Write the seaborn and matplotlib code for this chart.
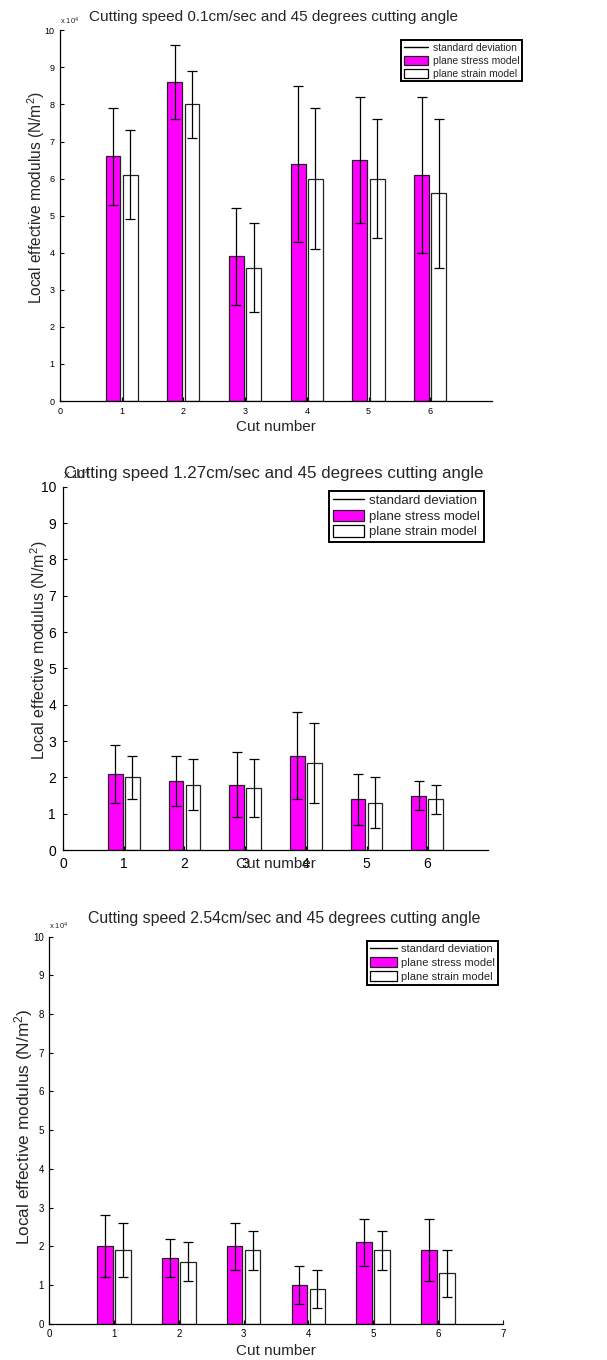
import numpy as np
import pandas as pd
import matplotlib
matplotlib.use("Agg")
import matplotlib.pyplot as plt
from matplotlib.lines import Line2D
from matplotlib.patches import Patch
import seaborn as sns

# Cut positions and model names
cuts = [1, 2, 3, 4, 5, 6]
models = ["plane stress model", "plane strain model"]

# Local effective modulus, in units of 1e4 N/m^2 (mean and standard deviation)
# Cutting speed 0.1 cm/sec
stress_01 = [6.6, 8.6, 3.9, 6.4, 6.5, 6.1]
stress_01_sd = [1.3, 1.0, 1.3, 2.1, 1.7, 2.1]
strain_01 = [6.1, 8.0, 3.6, 6.0, 6.0, 5.6]
strain_01_sd = [1.2, 0.9, 1.2, 1.9, 1.6, 2.0]

# Cutting speed 1.27 cm/sec
stress_127 = [2.1, 1.9, 1.8, 2.6, 1.4, 1.5]
stress_127_sd = [0.8, 0.7, 0.9, 1.2, 0.7, 0.4]
strain_127 = [2.0, 1.8, 1.7, 2.4, 1.3, 1.4]
strain_127_sd = [0.6, 0.7, 0.8, 1.1, 0.7, 0.4]

# Cutting speed 2.54 cm/sec
stress_254 = [2.0, 1.7, 2.0, 1.0, 2.1, 1.9]
stress_254_sd = [0.8, 0.5, 0.6, 0.5, 0.6, 0.8]
strain_254 = [1.9, 1.6, 1.9, 0.9, 1.9, 1.3]
strain_254_sd = [0.7, 0.5, 0.5, 0.5, 0.5, 0.6]

titles = [
    "Cutting speed 0.1cm/sec and 45 degrees cutting angle",
    "Cutting speed 1.27cm/sec and 45 degrees cutting angle",
    "Cutting speed 2.54cm/sec and 45 degrees cutting angle",
]
yticks = list(range(0, 11))

sns.set_style("white")
plt.rcParams["font.family"] = ["Liberation Sans", "DejaVu Sans"]
plt.rcParams["mathtext.fontset"] = "custom"
plt.rcParams["mathtext.rm"] = "Liberation Sans"
plt.rcParams["mathtext.it"] = "Liberation Sans:italic"

MAGENTA = "#ff00ff"
palette = {models[0]: MAGENTA, models[1]: "white"}

fig = plt.figure(figsize=(6.07, 13.6), dpi=100)

panels = [
    dict(rect=[0.0988, 0.7051, 0.7117, 0.2726],
         stress=stress_01, stress_sd=stress_01_sd, strain=strain_01, strain_sd=strain_01_sd,
         xticks=[0, 1, 2, 3, 4, 5, 6], tick_fs=6.5, title_fs=11, title_pad=7, title_x=0.495,
         ylab_fs=11.2, ylab_xy=(-0.030, 0.55), xlab_y=-0.051, leg_fs=7.4,
         leg_anchor=(1.069, 0.974), leg_sp=0.3, mult_fs=5.5, mult_y=1.008, tick_pad=4),
    dict(rect=[0.1038, 0.3750, 0.7000, 0.2671],
         stress=stress_127, stress_sd=stress_127_sd, strain=strain_127, strain_sd=strain_127_sd,
         xticks=[0, 1, 2, 3, 4, 5, 6], tick_fs=10, title_fs=12.2, title_pad=6, title_x=0.497,
         ylab_fs=11.5, ylab_xy=(-0.030, 0.55), xlab_y=-0.02, leg_fs=9.5,
         leg_anchor=(0.99, 0.989), leg_sp=0.18, mult_fs=8, mult_y=1.015, tick_pad=5),
    dict(rect=[0.0812, 0.0267, 0.7470, 0.2846],
         stress=stress_254, stress_sd=stress_254_sd, strain=strain_254, strain_sd=strain_254_sd,
         xticks=[0, 1, 2, 3, 4, 5, 6, 7], tick_fs=7, title_fs=11.4, title_pad=10, title_x=0.518,
         ylab_fs=12.4, ylab_xy=(-0.032, 0.508), xlab_y=-0.052, leg_fs=8.0,
         leg_anchor=(0.989, 0.99), leg_sp=0.3, mult_fs=5.5, mult_y=1.012, tick_pad=4),
]

for i, p in enumerate(panels):
    ax = fig.add_axes(p["rect"])
    df = pd.DataFrame({
        "cut": cuts * 2,
        "modulus": p["stress"] + p["strain"],
        "model": [models[0]] * len(cuts) + [models[1]] * len(cuts),
    })
    sns.barplot(data=df, x="cut", y="modulus", hue="model", hue_order=models,
                palette=palette, native_scale=True, width=0.56, gap=0.14,
                saturation=1, errorbar=None, edgecolor="#222222", linewidth=0.9,
                legend=False, ax=ax)

    # standard deviation whiskers at each bar centre
    for container, means, sds in zip(ax.containers,
                                     [p["stress"], p["strain"]],
                                     [p["stress_sd"], p["strain_sd"]]):
        bars = sorted(container, key=lambda b: b.get_x())
        xs = [b.get_x() + b.get_width() / 2 for b in bars]
        ax.errorbar(xs, means, yerr=sds, fmt="none", ecolor="black",
                    elinewidth=0.9, capsize=3.8, capthick=0.9, zorder=5)

    ax.set_xlim(0, 7)
    ax.set_ylim(0, 10)
    ax.set_xticks(p["xticks"])
    ax.set_yticks(yticks)
    ax.set_xticklabels([str(t) for t in p["xticks"]])
    ax.set_yticklabels([str(t) for t in yticks])
    ax.tick_params(direction="in", length=3, width=0.8, colors="black",
                   labelsize=p["tick_fs"], pad=p["tick_pad"],
                   left=True, bottom=True)
    for side in ["top", "right"]:
        ax.spines[side].set_visible(False)
    for side in ["left", "bottom"]:
        ax.spines[side].set_color("black")
        ax.spines[side].set_linewidth(0.9)

    ax.set_title(titles[i], fontsize=p["title_fs"], pad=p["title_pad"], x=p["title_x"])
    ax.set_ylabel("Local effective modulus (N/m$^2$)", fontsize=p["ylab_fs"])
    ax.yaxis.set_label_coords(*p["ylab_xy"])
    ax.set_xlabel("Cut number", fontsize=11)
    ax.xaxis.set_label_coords(0.5, p["xlab_y"])

    ax.text(0.0, p["mult_y"], r"x 10$^4$", transform=ax.transAxes,
            ha="left", va="bottom", fontsize=p["mult_fs"])

    handles = [
        Line2D([], [], color="black", lw=1),
        Patch(facecolor=MAGENTA, edgecolor="#222222", lw=0.9),
        Patch(facecolor="white", edgecolor="black", lw=0.9),
    ]
    labels = ["standard deviation", "plane stress model", "plane strain model"]
    leg = ax.legend(handles, labels, loc="upper right", bbox_to_anchor=p["leg_anchor"],
                    borderaxespad=0, fontsize=p["leg_fs"], fancybox=False,
                    framealpha=1, edgecolor="black", borderpad=0.25,
                    labelspacing=p["leg_sp"], handlelength=2.4, handleheight=0.95,
                    handletextpad=0.4)
    leg.get_frame().set_linewidth(1.4)

fig.savefig("out.png", dpi=100)
